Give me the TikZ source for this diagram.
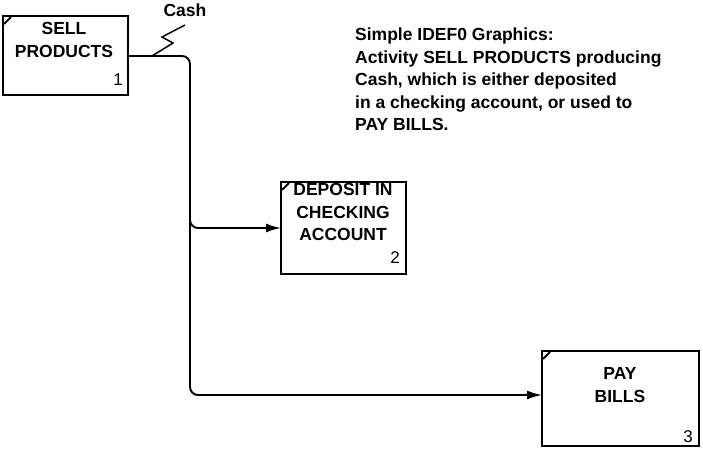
\documentclass[tikz,border=0pt]{standalone}
\usepackage{fontspec}
\setmainfont{Liberation Sans}
\usetikzlibrary{arrows.meta}
\begin{document}
\begin{tikzpicture}[x=1pt,y=-1pt,
  lbl/.style={font=\bfseries\fontsize{17.5}{22.5}\selectfont,align=center,inner sep=0pt},
  num/.style={font=\fontsize{17}{18}\selectfont,inner sep=0pt},
  frame/.style={line width=2.2pt},
  tick/.style={line width=1.8pt},
  conn/.style={line width=1.9pt,rounded corners=8pt},
  arr/.style={-{Latex[length=15pt,width=9pt]}}]
\useasboundingbox (0,0) rectangle (703,457);
% boxes
\draw[frame] (3,16) rectangle (128,95);
\draw[tick] (4,24) -- (11,17);
\node[lbl] (b1) at (64,40) {SELL\\PRODUCTS};
\node[num] (n1) at (118,80) {1};
\coordinate (b1out) at (128,56);

\draw[frame] (281,182) rectangle (406,274);
\draw[tick] (282,190) -- (289,183);
\node[lbl] (b2) at (343,212) {DEPOSIT IN\\CHECKING\\ACCOUNT};
\node[num] (n2) at (395,258) {2};
\coordinate (b2in) at (281,228);

\draw[frame] (542,351) rectangle (699,446);
\draw[tick] (543,359) -- (550,352);
\node[lbl] (b3) at (620,385) {PAY\\BILLS};
\node[num] (n3) at (688,437) {3};
\coordinate (b3in) at (542,395);

% connectors
\coordinate (c1) at (190,56);
\coordinate (c2) at (190,395);
\coordinate (c3) at (190,228);
\coordinate (c0) at (190,205);
\draw[conn,arr] (b1out) -- (c1) -- (c2) -- (b3in);
\draw[conn,arr] (c0) -- (c3) -- (b2in);
% squiggle
\draw[line width=1.5pt] (152,56) -- (173,43) -- (162,37) -- (185,25);
\node[font=\bfseries\fontsize{17.5}{18}\selectfont,inner sep=0pt] (cash) at (185,10) {Cash};
% title text
\node[font=\bfseries\fontsize{17.5}{22.5}\selectfont,align=left,anchor=north west,inner sep=0pt] (title) at (355,28)
 {Simple IDEF0 Graphics:\\Activity SELL PRODUCTS producing\\Cash, which is either deposited\\in a checking account, or used to\\PAY BILLS.};
\end{tikzpicture}
\end{document}
